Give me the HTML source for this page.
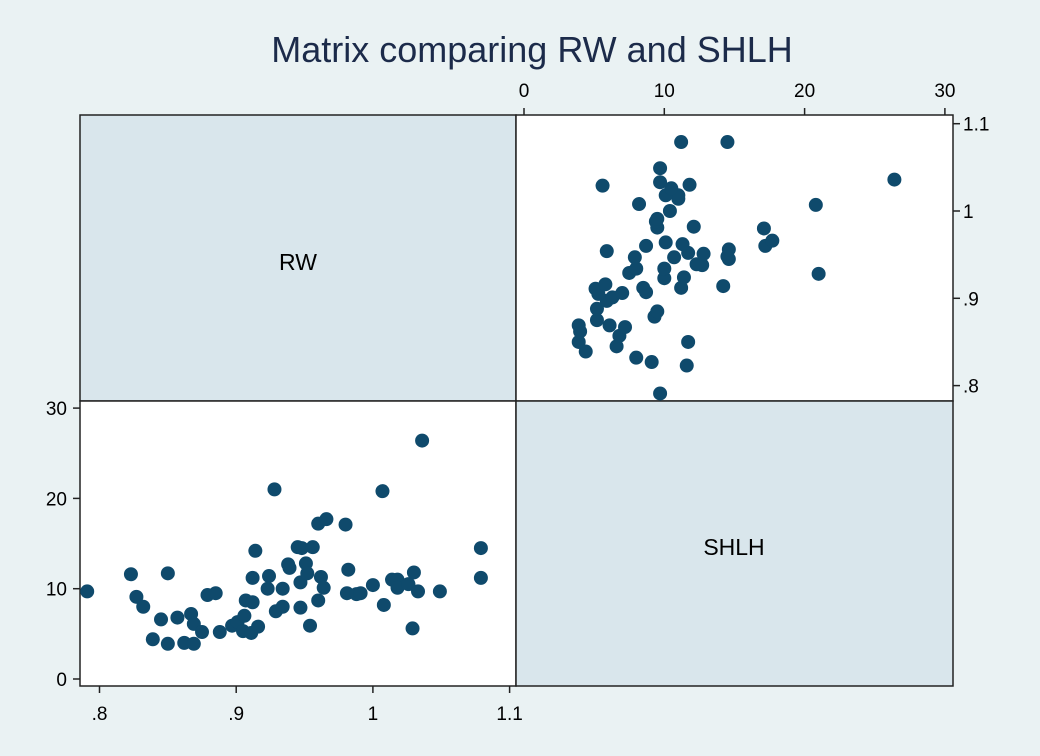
<!DOCTYPE html>
<html><head><meta charset="utf-8"><style>
html,body{margin:0;padding:0;background:#eaf2f3;}
svg{display:block;font-family:"Liberation Sans",sans-serif;}
</style></head><body>
<svg width="1040" height="756" id="chart">
<text x="532" y="62" text-anchor="middle" font-size="36" fill="#1c2b4a">Matrix comparing RW and SHLH</text>
<rect x="80" y="115" width="436" height="286" fill="#d9e6ec" stroke="#222" stroke-width="1.5"/>
<rect x="516" y="115" width="437" height="286" fill="#fff" stroke="#222" stroke-width="1.5"/>
<rect x="80" y="401" width="436" height="285" fill="#fff" stroke="#222" stroke-width="1.5"/>
<rect x="516" y="401" width="437" height="285" fill="#d9e6ec" stroke="#222" stroke-width="1.5"/>
<text x="298" y="270" text-anchor="middle" font-size="23" fill="#000">RW</text>
<text x="734" y="555" text-anchor="middle" font-size="23" fill="#000">SHLH</text>
<g id="axes"></g>
<g id="pts"></g>
</svg>
<script>
const rw = [.791,.823,.827,.832,.839,.845,.850,.850,.857,.862,.869,.867,.869,.875,.879,.885,.888,.897,.901,.906,.905,.911,.916,.907,.912,.912,.914,.924,.923,.934,.928,.929,.934,.938,.939,.945,.948,.947,.947,1.036,1.007,.960,.966,.980,.956,.951,.952,.962,.964,.960,.954,.982,.981,.988,.991,1.000,1.008,1.014,1.018,1.018,1.026,1.030,1.033,1.049,1.029,1.079,1.079];
const shlh = [9.7,11.6,9.1,8.0,4.4,6.6,11.7,3.9,6.8,4.0,3.9,7.2,6.1,5.2,9.3,9.5,5.2,5.9,6.3,7.0,5.3,5.1,5.8,8.7,8.5,11.2,14.2,11.4,10.0,10.0,21.0,7.5,8.0,12.7,12.3,14.6,14.5,10.7,7.9,26.4,20.8,17.2,17.7,17.1,14.6,12.8,11.7,11.3,10.1,8.7,5.9,12.1,9.5,9.4,9.5,10.4,8.2,11.0,11.0,10.1,10.5,11.8,9.7,9.7,5.6,14.5,11.2];
const rwTicks = [.8,.9,1,1.1];
const rwTickLabels = [".8",".9","1","1.1"];
const shTicks = [0,10,20,30];
const shTickLabels = ["0","10","20","30"];

const NS="http://www.w3.org/2000/svg";
const blX = v => 99.5 + (v-.8)/.1*136.7;
const blY = v => 679 - v*9.03;
const trX = v => 524 + v*14.03;
const trY = v => 211 - (v-1)/.1*87.3;

const axes=document.getElementById('axes');
function mk(tag,attrs,parent){const e=document.createElementNS(NS,tag);for(const k in attrs)e.setAttribute(k,attrs[k]);parent.appendChild(e);return e;}
rwTicks.forEach((t,i)=>{
  const x=blX(t);
  const l=mk('line',{x1:x,x2:x,y1:686,y2:693,stroke:'#222','stroke-width':1.5},axes);
  
  
  const tx=mk('text',{x:x,y:720,'text-anchor':'middle','font-size':19},axes);
  tx.textContent=rwTickLabels[i];
  
  
  const y=trY(t);
  const l2=mk('line',{x1:953,x2:960,y1:y,y2:y,stroke:'#222','stroke-width':1.5},axes);
  
  
  const t2=mk('text',{x:963,y:y+7,'text-anchor':'start','font-size':19},axes);
  t2.textContent=rwTickLabels[i];
  
  
});
shTicks.forEach((t,i)=>{
  const y=blY(t);
  const l=mk('line',{x1:73,x2:80,y1:y,y2:y,stroke:'#222','stroke-width':1.5},axes);
  
  
  const tx=mk('text',{x:67,y:y+7,'text-anchor':'end','font-size':19},axes);
  tx.textContent=shTickLabels[i];
  
  
  const x=trX(t);
  const l2=mk('line',{x1:x,x2:x,y1:108,y2:115,stroke:'#222','stroke-width':1.5},axes);
  
  
  const t2=mk('text',{x:x,y:97,'text-anchor':'middle','font-size':19},axes);
  t2.textContent=shTickLabels[i];
  
  
});
const pts=document.getElementById('pts');
rw.forEach((r,i)=>{
  const s=shlh[i];
  const c1=mk('circle',{cx:blX(r),cy:blY(s),r:7,fill:'#0f4a6c'},pts);
  
  
  const c2=mk('circle',{cx:trX(s),cy:trY(r),r:7,fill:'#0f4a6c'},pts);
  
  
});
</script>
</body></html>
